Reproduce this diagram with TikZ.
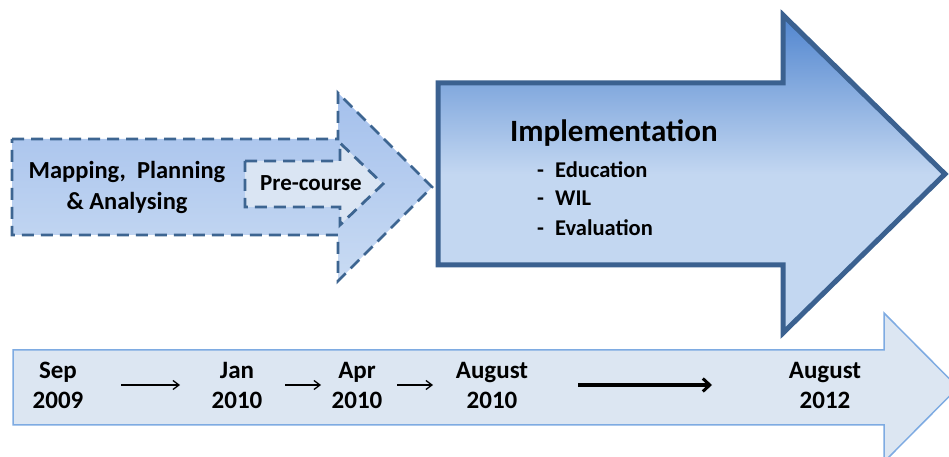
\documentclass[tikz,border=0pt]{standalone}
\usepackage{fontspec}
\setmainfont{Carlito}
\usetikzlibrary{arrows.meta}
\definecolor{dkblue}{HTML}{3B6190}
\definecolor{dashblue}{HTML}{3D6591}
\definecolor{fillA}{HTML}{A4C0EC}
\definecolor{fillB}{HTML}{C9DBF3}
\definecolor{preFill}{HTML}{DAE5F3}
\definecolor{impTop}{HTML}{5085CF}
\definecolor{impMid}{HTML}{C3D7F1}
\definecolor{tlFill}{HTML}{DCE6F2}
\definecolor{tlLine}{HTML}{7EABE2}
\tikzset{
  dashedarrow/.style={draw=dashblue, line width=2.8pt, dash pattern=on 12pt off 7pt, line join=miter},
  datenode/.style={align=center, inner sep=0pt, font=\fontsize{25}{30}\selectfont\bfseries},
  bullettxt/.style={inner sep=0pt, anchor=base west, font=\fontsize{22.5}{29}\selectfont\bfseries},
  thinarr/.style={line width=1.3pt, -{Straight Barb[length=6pt,width=9pt]}},
  thickarr/.style={line width=3.6pt, -{Straight Barb[length=7pt,width=13pt,line width=3pt]}}
}
\begin{document}
\begin{tikzpicture}[x=1pt,y=1pt]
\useasboundingbox (0,0) rectangle (949,457);
\clip (0,0) rectangle (949,457);
% outer dashed arrow
\path[dashedarrow, top color=fillA, bottom color=fillB]
  (12,318) -- (338,318) -- (338,364) -- (432,270) -- (338,176) -- (338,222) -- (12,222) -- cycle;
% pre-course arrow
\path[dashedarrow, fill=preFill]
  (245,296) -- (340,296) -- (340,314) -- (383,273) -- (340,232) -- (340,250) -- (245,250) -- cycle;
% implementation arrow
\path[draw=dkblue, line width=5pt, line join=miter, top color=impTop, bottom color=impMid, middle color=impMid]
  (438,374) -- (783,374) -- (783,442) -- (945,283) -- (783,124) -- (783,192) -- (438,192) -- cycle;
% timeline arrow
\path[draw=tlLine, line width=1.5pt, fill=tlFill]
  (13,107) -- (884,107) -- (884,144) -- (958,69.5) -- (884,-5) -- (884,32) -- (13,32) -- cycle;
% texts
\node[align=center, inner sep=0pt, font=\fontsize{24.5}{31}\selectfont\bfseries] (map) at (127,269.5) {Mapping,~~Planning\\\& Analysing};
\node[inner sep=0pt, font=\fontsize{23}{29}\selectfont\bfseries] (pre) at (311,274) {Pre-course};
\node[anchor=west, inner sep=0pt, font=\fontsize{31}{36}\selectfont\bfseries] (impl) at (510,324) {Implementation};
\node[bullettxt] (b1) at (537,279) {\makebox[18pt][l]{-}Education};
\node[bullettxt] (b2) at (537,251) {\makebox[18pt][l]{-}WIL};
\node[bullettxt] (b3) at (537,221) {\makebox[18pt][l]{-}Evaluation};
% timeline dates
\node[datenode] (sep) at (58,72) {Sep\\2009};
\node[datenode] (jan) at (237,72) {Jan\\2010};
\node[datenode] (apr) at (357,72) {Apr\\2010};
\node[datenode] (aug10) at (492,72) {August\\2010};
\node[datenode] (aug12) at (825,72) {August\\2012};
\draw[thinarr, shorten <=63pt, shorten >=57pt] (sep.center) -- (jan.center);
\draw[thinarr, shorten <=48pt, shorten >=36pt] (jan.center) -- (apr.center);
\draw[thinarr, shorten <=40pt, shorten >=59pt] (apr.center) -- (aug10.center);
\draw[thickarr, shorten <=86pt, shorten >=113pt] (aug10.center) -- (aug12.center);
\end{tikzpicture}
\end{document}
